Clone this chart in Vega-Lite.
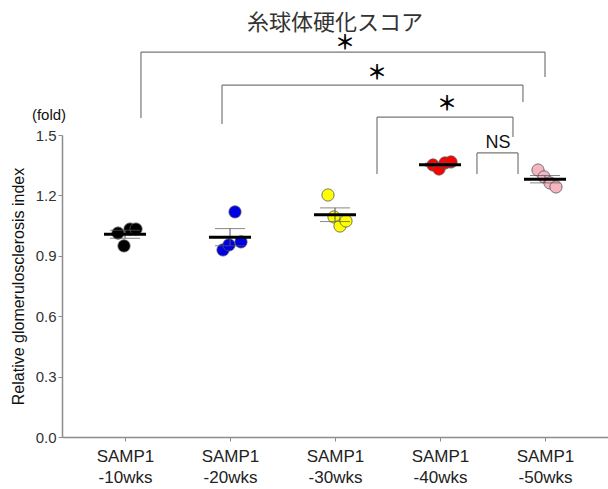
{
  "$schema": "https://vega.github.io/schema/vega-lite/v6.json",
  "width": 546,
  "height": 302,
  "autosize": {"type": "none"},
  "padding": {"left": 62, "top": 135, "right": 0, "bottom": 52},
  "title": {
    "text": "糸球体硬化スコア",
    "font": "Noto Sans CJK JP",
    "fontSize": 22,
    "fontWeight": "normal",
    "color": "#333333",
    "anchor": "middle",
    "offset": -1
  },
  "config": {
    "font": "Liberation Sans",
    "view": {"stroke": null}
  },
  "datasets": {
    "pts": [
      {"group": "SAMP1\n-10wks", "rep": 1, "value": 1.013},
      {"group": "SAMP1\n-10wks", "rep": 2, "value": 0.949},
      {"group": "SAMP1\n-10wks", "rep": 3, "value": 1.033},
      {"group": "SAMP1\n-10wks", "rep": 4, "value": 1.033},
      {"group": "SAMP1\n-20wks", "rep": 1, "value": 0.929},
      {"group": "SAMP1\n-20wks", "rep": 2, "value": 0.954},
      {"group": "SAMP1\n-20wks", "rep": 3, "value": 1.118},
      {"group": "SAMP1\n-20wks", "rep": 4, "value": 0.969},
      {"group": "SAMP1\n-30wks", "rep": 1, "value": 1.202},
      {"group": "SAMP1\n-30wks", "rep": 2, "value": 1.093},
      {"group": "SAMP1\n-30wks", "rep": 3, "value": 1.048},
      {"group": "SAMP1\n-30wks", "rep": 4, "value": 1.073},
      {"group": "SAMP1\n-40wks", "rep": 1, "value": 1.351},
      {"group": "SAMP1\n-40wks", "rep": 2, "value": 1.331},
      {"group": "SAMP1\n-40wks", "rep": 3, "value": 1.361},
      {"group": "SAMP1\n-40wks", "rep": 4, "value": 1.366},
      {"group": "SAMP1\n-50wks", "rep": 1, "value": 1.326},
      {"group": "SAMP1\n-50wks", "rep": 2, "value": 1.292},
      {"group": "SAMP1\n-50wks", "rep": 3, "value": 1.262},
      {"group": "SAMP1\n-50wks", "rep": 4, "value": 1.242}
    ],
    "brackets": [
      {"x": 0.152, "x2": 4.0, "y": 1.912, "y2": 1.912},
      {"x": 0.152, "x2": 0.152, "y": 1.584, "y2": 1.912},
      {"x": 4.0, "x2": 4.0, "y": 1.788, "y2": 1.912},
      {"x": 0.924, "x2": 3.79, "y": 1.748, "y2": 1.748},
      {"x": 0.924, "x2": 0.924, "y": 1.555, "y2": 1.748},
      {"x": 3.79, "x2": 3.79, "y": 1.664, "y2": 1.748},
      {"x": 2.4, "x2": 3.695, "y": 1.589, "y2": 1.589},
      {"x": 2.4, "x2": 2.4, "y": 1.306, "y2": 1.589},
      {"x": 3.695, "x2": 3.695, "y": 1.49, "y2": 1.589},
      {"x": 3.352, "x2": 3.743, "y": 1.411, "y2": 1.411},
      {"x": 3.352, "x2": 3.352, "y": 1.306, "y2": 1.411},
      {"x": 3.743, "x2": 3.743, "y": 1.306, "y2": 1.411}
    ],
    "stars": [
      {"x": 2.095, "y": 1.95, "label": "＊"},
      {"x": 2.4, "y": 1.805, "label": "＊"},
      {"x": 3.067, "y": 1.651, "label": "＊"}
    ],
    "ns": [
      {"x": 3.552, "y": 1.46, "label": "NS"}
    ],
    "fold": [
      {"x": -0.724, "y": 1.60, "label": "(fold)"}
    ]
  },
  "resolve": {"scale": {"x": "independent"}, "axis": {"x": "independent"}},
  "layer": [
    {
      "layer": [
        {
          "data": {"name": "pts"},
          "mark": {"type": "point", "filled": true, "size": 150, "stroke": "#555555", "strokeWidth": 0.8, "opacity": 1},
          "encoding": {
            "x": {"field": "group", "type": "nominal", "sort": null,
                  "scale": {"type": "point", "padding": 0.6},
                  "axis": {"title": null, "labelAngle": 0, "labelExpr": "split(datum.label, '\\n')",
                           "labelFontSize": 17, "labelColor": "#222222", "labelLineHeight": 21,
                           "labelPadding": 7, "tickSize": 4, "tickColor": "#8c8c8c",
                           "domainColor": "#8c8c8c", "domainWidth": 1.5}},
            "xOffset": {"field": "rep", "type": "nominal", "scale": {"range": [-10, 14]}},
            "y": {"field": "value", "type": "quantitative", "title": "Relative glomerulosclerosis index",
                  "scale": {"domain": [0, 1.5], "nice": false},
                  "axis": {"titleFontSize": 16,
                           "titleFontWeight": "normal", "titleColor": "#111111", "titlePadding": 9,
                           "values": [0, 0.3, 0.6, 0.9, 1.2, 1.5], "format": ".1f",
                           "labelFontSize": 15, "labelColor": "#333333", "grid": false,
                           "tickSize": 4, "tickColor": "#8c8c8c", "domainColor": "#8c8c8c", "domainWidth": 1.5}},
            "color": {"field": "group", "type": "nominal", "legend": null,
                      "scale": {"range": ["#000000", "#0000e6", "#ffff00", "#ff0000", "#f5b6c1"]}}
          }
        },
        {
          "data": {"name": "pts"},
          "mark": {"type": "errorbar", "extent": "stderr", "ticks": {"size": 30}, "color": "#555555", "thickness": 1},
          "encoding": {
            "x": {"field": "group", "type": "nominal", "sort": null},
            "y": {"field": "value", "type": "quantitative", "title": "Relative glomerulosclerosis index"}
          }
        },
        {
          "data": {"name": "pts"},
          "mark": {"type": "tick", "orient": "horizontal", "size": 42, "thickness": 3, "color": "#000000"},
          "encoding": {
            "x": {"field": "group", "type": "nominal", "sort": null},
            "y": {"aggregate": "mean", "field": "value", "type": "quantitative", "title": "Relative glomerulosclerosis index"}
          }
        }
      ]
    },
    {
      "layer": [
        {
          "data": {"name": "brackets"},
          "mark": {"type": "rule", "color": "#777777", "strokeWidth": 1.2, "clip": false},
          "encoding": {
            "x": {"field": "x", "type": "quantitative", "scale": {"domain": [-0.6, 4.6], "nice": false, "zero": false}, "axis": null},
            "x2": {"field": "x2"},
            "y": {"field": "y", "type": "quantitative", "title": "Relative glomerulosclerosis index"},
            "y2": {"field": "y2"}
          }
        },
        {
          "data": {"name": "stars"},
          "mark": {"type": "text", "font": "Noto Sans CJK JP", "fontSize": 20, "fontWeight": "bold", "color": "#000000", "baseline": "middle", "align": "center", "clip": false},
          "encoding": {
            "x": {"field": "x", "type": "quantitative"},
            "y": {"field": "y", "type": "quantitative", "title": "Relative glomerulosclerosis index"},
            "text": {"field": "label"}
          }
        },
        {
          "data": {"name": "ns"},
          "mark": {"type": "text", "fontSize": 18, "color": "#111111", "baseline": "middle", "align": "center", "clip": false},
          "encoding": {
            "x": {"field": "x", "type": "quantitative"},
            "y": {"field": "y", "type": "quantitative", "title": "Relative glomerulosclerosis index"},
            "text": {"field": "label"}
          }
        },
        {
          "data": {"name": "fold"},
          "mark": {"type": "text", "fontSize": 15, "color": "#111111", "baseline": "middle", "align": "center", "clip": false},
          "encoding": {
            "x": {"field": "x", "type": "quantitative"},
            "y": {"field": "y", "type": "quantitative", "title": "Relative glomerulosclerosis index"},
            "text": {"field": "label"}
          }
        }
      ]
    }
  ]
}
